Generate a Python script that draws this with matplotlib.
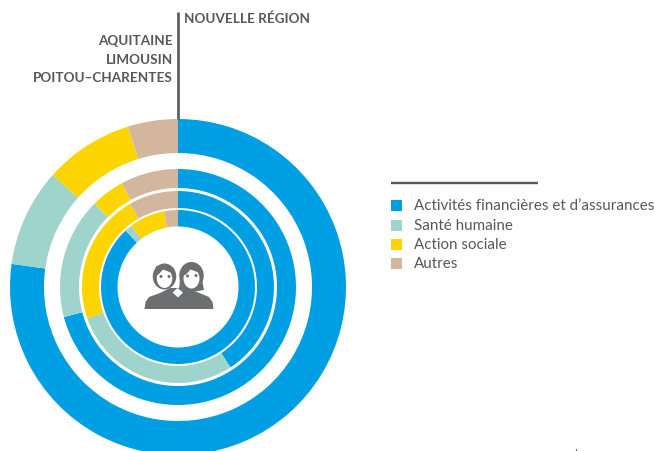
import matplotlib
matplotlib.use("Agg")
import matplotlib.pyplot as plt
from matplotlib.patches import Ellipse, Polygon, Rectangle

W, H = 654, 451

# share of each sector in %, outer ring first
categories = ["Activités financières et d’assurances", "Santé humaine", "Action sociale", "Autres"]
ring_1 = [77.2, 9.4, 8.6, 4.8]
ring_2 = [70.9, 16.6, 4.6, 7.9]
ring_3 = [40.8, 28.9, 22.0, 8.3]
ring_4 = [88.1, 1.5, 7.5, 2.9]
region_new = "NOUVELLE RÉGION"
regions_old = ["AQUITAINE", "LIMOUSIN", "POITOU–CHARENTES"]

colors = ["#009fe3", "#9fd4cd", "#fcd500", "#d3b69e"]
grey = "#58585a"
icon_grey = "#6d6e70"


def py(y):
    # picture rows to axes coordinates
    return H - y


def poly(points, color, z=5):
    ax.add_patch(Polygon([(x, py(y)) for x, y in points], closed=True, fc=color, ec="none", zorder=z))


def oval(x, y, w, h, color, z=5):
    ax.add_patch(Ellipse((x, py(y)), w, h, fc=color, ec="none", zorder=z))


fig = plt.figure(figsize=(W / 100, H / 100), dpi=100)
ax = fig.add_axes([0, 0, 1, 1])

cx, cy = 178, py(287)
for vals, outer, inner in [(ring_1, 168, 134), (ring_2, 118, 99), (ring_3, 96, 79), (ring_4, 77, 60.5)]:
    ax.pie(vals, colors=colors, radius=outer, center=(cx, cy), startangle=90, counterclock=False,
           wedgeprops=dict(width=outer - inner, linewidth=0))

ax.set_xlim(0, W)
ax.set_ylim(0, H)
ax.set_aspect("equal")
ax.axis("off")

# region labels and the rule between them
ax.plot([178, 178], [py(12), py(119)], color=grey, lw=1.9, solid_capstyle="butt")
font = ["Lato", "DejaVu Sans"]
ax.text(184, py(18.5), region_new, ha="left", va="center", fontsize=9.7, fontweight="bold", color=grey, family=font)
for name, y in zip(regions_old, [41, 60, 78]):
    ax.text(173, py(y), name, ha="right", va="center", fontsize=9.7, fontweight="bold", color=grey, family=font)

# legend
ax.plot([391, 538], [py(182.5), py(182.5)], color=grey, lw=1.7, solid_capstyle="butt")
for name, col, y in zip(categories, colors, [205.5, 225, 244.5, 263.5]):
    ax.add_patch(Rectangle((391, py(y + 5.5)), 11, 11, fc=col, ec="none"))
    ax.text(414, py(y + 0.7), name, ha="left", va="center", fontsize=10.9, color=grey, family=font)

# two women icon
poly([(144.5, 309), (145.5, 302), (149, 297), (160, 293), (170, 288), (186, 288), (197, 292),
      (209, 297), (212.5, 302), (213.5, 309)], icon_grey)
oval(164.5, 276.5, 23.5, 26, icon_grey)
oval(191.5, 275.5, 24.5, 27, icon_grey)
poly([(180, 276), (179.5, 286), (178, 290), (186, 293), (198, 291), (204, 290), (202.5, 282), (203, 276)], icon_grey)
poly([(177.5, 288), (172.5, 292.5), (178, 297.5), (183, 292.5)], "white", z=6)
oval(164.5, 278.5, 15.5, 19, "white", z=6)
oval(191.5, 278.5, 16, 20, "white", z=6)
# fringes
poly([(155, 276), (158.5, 274.5), (163, 269.5), (172, 273), (174, 268), (156, 266)], icon_grey, z=7)
poly([(182, 276), (186, 274.5), (190.5, 269.5), (200, 273), (201, 267), (183, 266)], icon_grey, z=7)
for ex, ey in [(161, 276.5), (169, 276.5), (187.5, 276), (196, 275.5)]:
    oval(ex, ey, 3, 3, icon_grey, z=8)

ax.plot([576, 576], [py(449), py(451)], color=icon_grey, lw=0.8)

fig.savefig("out.png", dpi=100)
